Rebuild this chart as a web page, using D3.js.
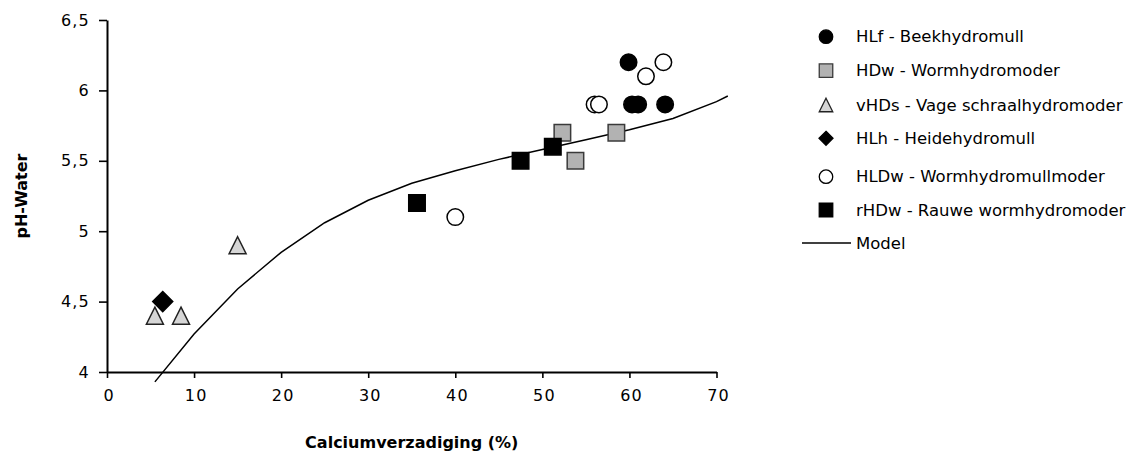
<!DOCTYPE html>
<html>
<head>
<meta charset="utf-8">
<script src="https://cdn.jsdelivr.net/npm/d3@7"></script>
<style>
  body { margin: 0; background: #fff; }
  text { font-family: "DejaVu Sans", sans-serif; fill: #000; }
  .tick text { font-size: 16px; letter-spacing: 1.2px; }
  .axis-title { font-weight: bold; font-size: 16px; }
  .legend text { font-size: 16.5px; }
</style>
</head>
<body>
<div id="chart"></div>
<script>
// data
var hlf = [[59.9, 6.2], [60.3, 5.9], [61.0, 5.9], [64.1, 5.9]];
var hdw = [[52.3, 5.7], [53.8, 5.5], [58.5, 5.7]];
var vhds = [[5.5, 4.4], [8.5, 4.4], [15, 4.9]];
var hlh = [[6.4, 4.5]];
var hldw = [[40, 5.1], [56, 5.9], [56.5, 5.9], [61.9, 6.1], [63.9, 6.2]];
var rhdw = [[35.6, 5.2], [47.5, 5.5], [51.2, 5.6]];
var model = [[5.5, 3.93], [10, 4.27], [15, 4.59], [20, 4.85], [25, 5.06], [30, 5.22],
             [35, 5.34], [40, 5.43], [45, 5.51], [50, 5.58], [55, 5.65], [60, 5.72],
             [65, 5.80], [70, 5.92], [71.3, 5.96]];
var xTicks = [0, 10, 20, 30, 40, 50, 60, 70];
var yTicks = [4, 4.5, 5, 5.5, 6, 6.5];

var series = [
  {name: "HLf - Beekhydromull", data: hlf, shape: "circle", fill: "#000", stroke: "#000"},
  {name: "HDw - Wormhydromoder", data: hdw, shape: "square", fill: "#b2b2b2", stroke: "#3a3a3a"},
  {name: "vHDs - Vage schraalhydromoder", data: vhds, shape: "triangle", fill: "#d6d6d6", stroke: "#222"},
  {name: "HLh - Heidehydromull", data: hlh, shape: "diamond", fill: "#000", stroke: "#000"},
  {name: "HLDw - Wormhydromullmoder", data: hldw, shape: "circle", fill: "#fff", stroke: "#000"},
  {name: "rHDw - Rauwe wormhydromoder", data: rhdw, shape: "square", fill: "#000", stroke: "#000"}
];

var svgWidth = 1131, svgHeight = 456;
var margin = {top: 20, left: 107};
var width = 609.5, height = 352;

var svg = d3.select("#chart").append("svg")
  .attr("width", svgWidth)
  .attr("height", svgHeight);

var chartGroup = svg.append("g")
  .attr("transform", `translate(${margin.left}, ${margin.top})`);

var xScale = d3.scaleLinear().domain([0, 70]).range([0, width]);
var yScale = d3.scaleLinear().domain([4, 6.5]).range([height, 0]);

// marker path, centred on 0,0
function shapePath(shape, s) {
  var h = s / 2;
  if (shape === "circle") {
    return `M${-h},0A${h},${h} 0 1,0 ${h},0A${h},${h} 0 1,0 ${-h},0Z`;
  } else if (shape === "square") {
    return `M${-h},${-h}H${h}V${h}H${-h}Z`;
  } else if (shape === "triangle") {
    return `M0,${-h}L${h},${h}L${-h},${h}Z`;
  } else {
    return `M0,${-h}L${h},0L0,${h}L${-h},0Z`;
  }
}

var fmt = d => String(d).replace(".", ",");

// axes
var bottomAxis = d3.axisBottom(xScale).tickValues(xTicks).tickSizeOuter(0).tickSizeInner(6).tickPadding(12);
var leftAxis = d3.axisLeft(yScale).tickValues(yTicks).tickFormat(fmt).tickSizeOuter(0).tickSizeInner(8).tickPadding(9);

var xAxis = chartGroup.append("g")
  .attr("transform", `translate(0, ${height})`)
  .call(bottomAxis);
var yAxis = chartGroup.append("g").call(leftAxis);

[xAxis, yAxis].forEach(function(a) {
  a.select(".domain").attr("stroke", "#000").attr("stroke-width", 2);
  a.selectAll(".tick line").attr("stroke", "#000").attr("stroke-width", 1.6);
  a.selectAll(".tick text").attr("fill", "#000");
});
xAxis.selectAll(".tick text").attr("dx", "0.1em");

// model line
var line = d3.line().x(d => xScale(d[0])).y(d => yScale(d[1]));
chartGroup.append("path")
  .datum(model)
  .attr("d", line)
  .attr("fill", "none")
  .attr("stroke", "#000")
  .attr("stroke-width", 1.5);

// scatter series
series.forEach(function(s) {
  var size = s.shape === "diamond" ? 20 : (s.shape === "triangle" ? 17 : 16.5);
  chartGroup.selectAll(null)
    .data(s.data)
    .enter()
    .append("path")
    .attr("transform", d => `translate(${xScale(d[0])}, ${yScale(d[1])})`)
    .attr("d", shapePath(s.shape, size))
    .attr("fill", s.fill)
    .attr("stroke", s.stroke)
    .attr("stroke-width", 1.5);
});

// axis titles
svg.append("text")
  .attr("class", "axis-title")
  .attr("x", margin.left + width / 2)
  .attr("y", 448)
  .attr("text-anchor", "middle")
  .text("Calciumverzadiging (%)");

svg.append("text")
  .attr("class", "axis-title")
  .attr("transform", `translate(27, ${margin.top + height / 2}) rotate(-90)`)
  .attr("text-anchor", "middle")
  .text("pH-Water");

// legend
var legendRows = [36.7, 70.7, 105, 138.3, 176.7, 210];
var legend = svg.append("g").attr("class", "legend");
series.forEach(function(s, i) {
  var size = s.shape === "diamond" ? 14 : 13.5;
  legend.append("path")
    .attr("transform", `translate(826, ${legendRows[i]})`)
    .attr("d", shapePath(s.shape, size))
    .attr("fill", s.fill)
    .attr("stroke", s.stroke)
    .attr("stroke-width", 1.3);
  legend.append("text")
    .attr("x", 856)
    .attr("y", legendRows[i])
    .attr("dy", "0.35em")
    .text(s.name);
});
legend.append("line")
  .attr("x1", 802).attr("x2", 851)
  .attr("y1", 243).attr("y2", 243)
  .attr("stroke", "#000").attr("stroke-width", 1.5);
legend.append("text")
  .attr("x", 856)
  .attr("y", 243)
  .attr("dy", "0.35em")
  .text("Model");
</script>
</body>
</html>
